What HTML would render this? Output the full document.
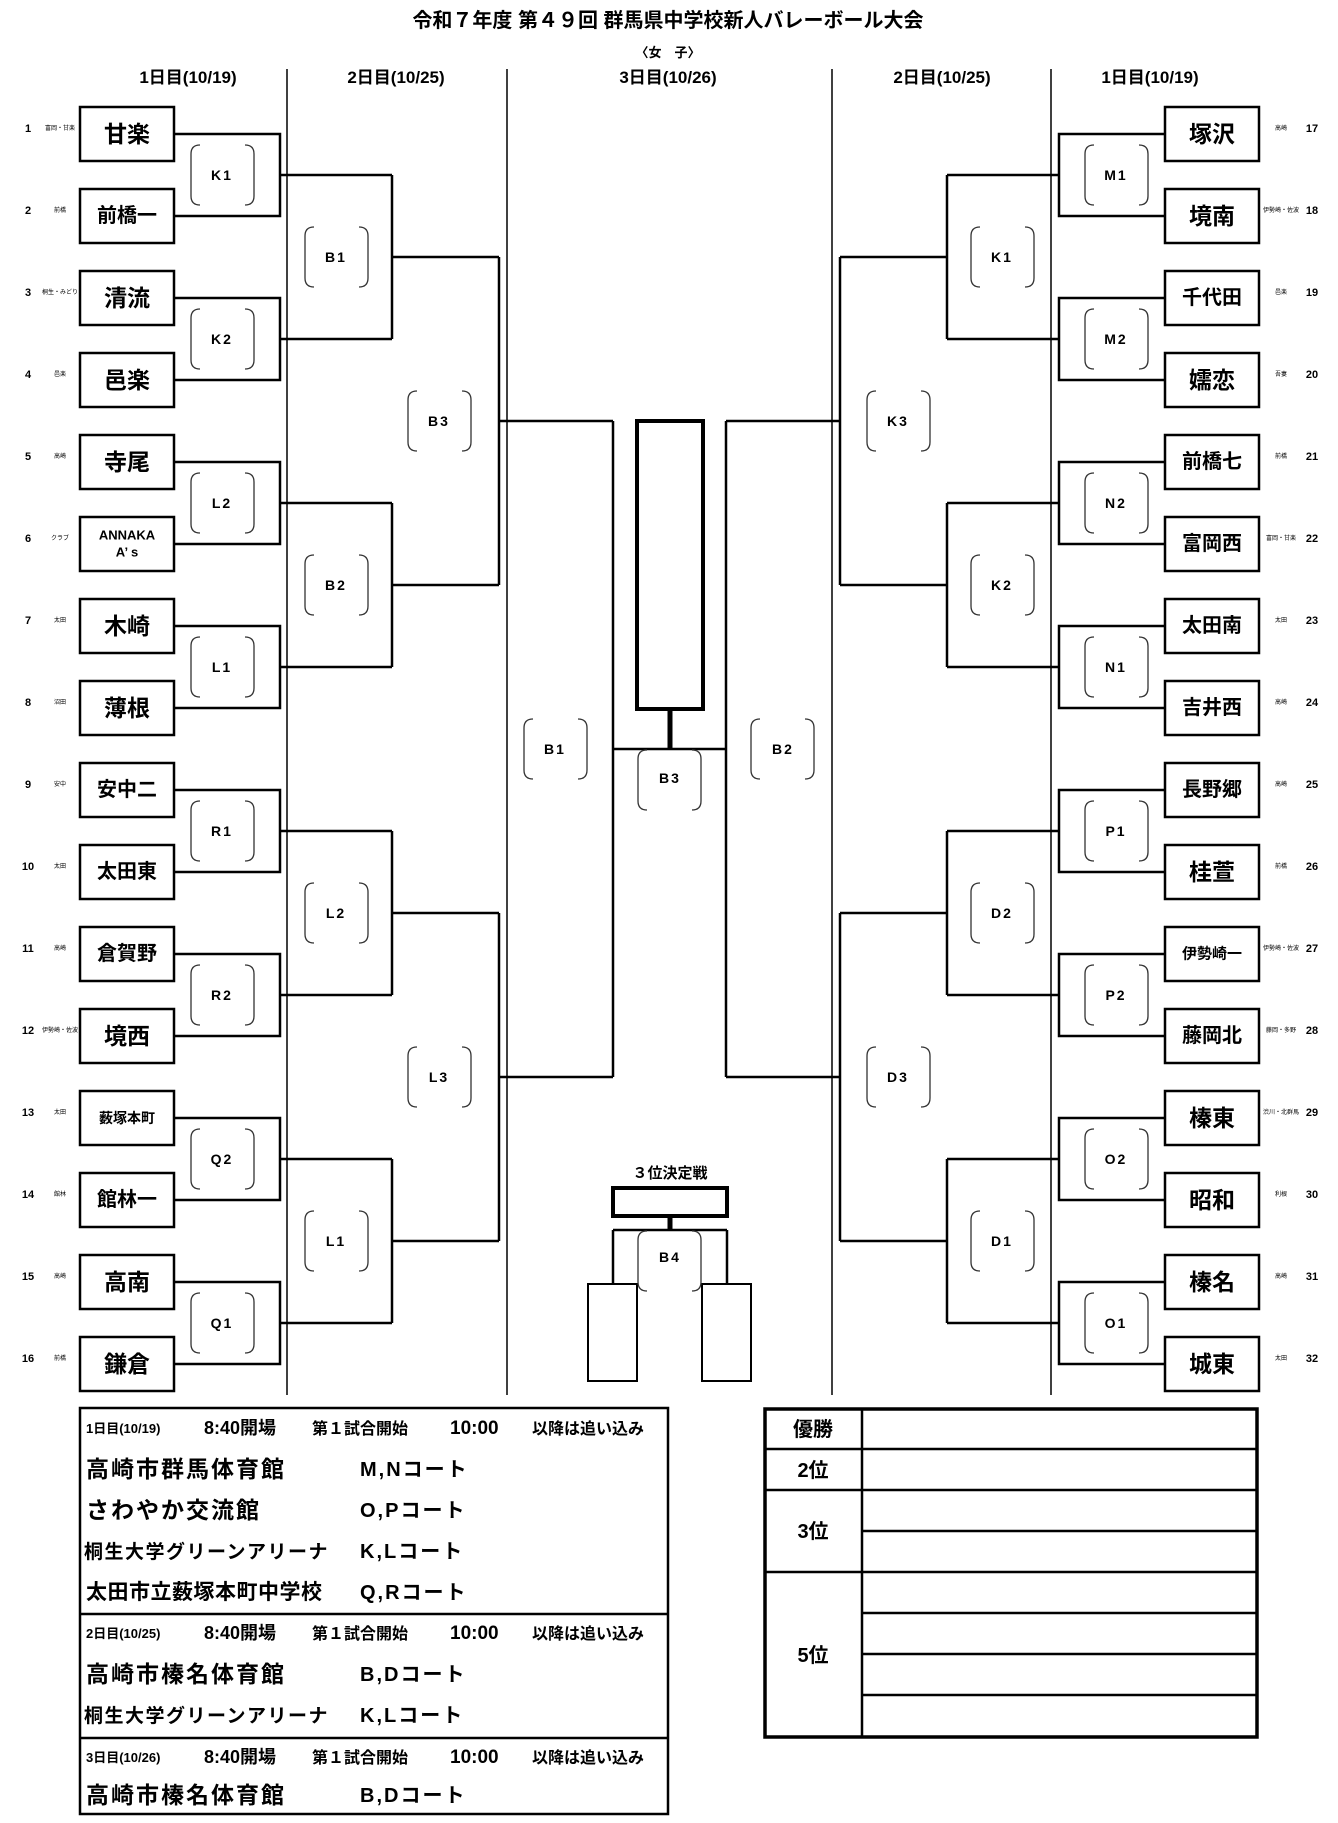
<!DOCTYPE html>
<html><head><meta charset="utf-8"><style>
html,body{margin:0;padding:0;background:#fff}
svg{display:block}
text{font-family:"Liberation Sans","Noto Sans CJK JP",sans-serif;fill:#000}
.tn{font-size:23px;font-weight:bold;text-anchor:middle;dominant-baseline:central}
.lb{font-size:14px;font-weight:bold;text-anchor:middle;dominant-baseline:central;letter-spacing:2px}
.num{font-size:11px;font-weight:bold;text-anchor:middle;dominant-baseline:central}
.ds{font-size:6px;text-anchor:middle;dominant-baseline:central}
.hd{font-size:17px;font-weight:bold;text-anchor:middle}
</style></head><body>
<svg width="1338" height="1823" viewBox="0 0 1338 1823" xmlns="http://www.w3.org/2000/svg">
<text x="668" y="27" style="font-size:20px;font-weight:bold" text-anchor="middle">令和７年度 第４９回 群馬県中学校新人バレーボール大会</text>
<text x="668" y="57" style="font-size:13px;font-weight:bold" text-anchor="middle">〈女　子〉</text>
<text class="hd" x="188" y="83">1日目(10/19)</text>
<text class="hd" x="396" y="83">2日目(10/25)</text>
<text class="hd" x="668" y="83">3日目(10/26)</text>
<text class="hd" x="942" y="83">2日目(10/25)</text>
<text class="hd" x="1150" y="83">1日目(10/19)</text>
<g stroke="#000" stroke-width="1.5"><path d="M287 69V1395M507 69V1395M832 69V1395M1051 69V1395"/></g>
<g fill="none" stroke="#000" stroke-width="2.5">
<path d="M174 134H280V216H174M280 175H392M174 298H280V380H174M280 339H392M174 462H280V544H174M280 503H392M174 626H280V708H174M280 667H392M174 790H280V872H174M280 831H392M174 954H280V1036H174M280 995H392M174 1118H280V1200H174M280 1159H392M174 1282H280V1364H174M280 1323H392"/>
<path d="M392 175V339M392 257H499M392 503V667M392 585H499M392 831V995M392 913H499M392 1159V1323M392 1241H499M499 257V585M499 421H613M499 913V1241M499 1077H613M613 421V1077M613 749H726"/>
<path d="M1165 134H1059V216H1165M1059 175H947M1165 298H1059V380H1165M1059 339H947M1165 462H1059V544H1165M1059 503H947M1165 626H1059V708H1165M1059 667H947M1165 790H1059V872H1165M1059 831H947M1165 954H1059V1036H1165M1059 995H947M1165 1118H1059V1200H1165M1059 1159H947M1165 1282H1059V1364H1165M1059 1323H947"/>
<path d="M947 175V339M947 257H840M947 503V667M947 585H840M947 831V995M947 913H840M947 1159V1323M947 1241H840M840 257V585M840 421H726M840 913V1241M840 1077H726M726 421V1077"/>
<path d="M613 1230H727M613 1230V1284M727 1230V1284"/>
<rect x="588" y="1284" width="49" height="97" stroke-width="2"/>
<rect x="702" y="1284" width="49" height="97" stroke-width="2"/>
<rect x="637" y="421" width="66" height="288" stroke-width="4"/>
<rect x="613" y="1188" width="114" height="28" stroke-width="4"/>
<path d="M670 709V749M670 1216V1230" stroke-width="5"/>
</g>
<g fill="#fff" stroke="#000" stroke-width="2.5">
<rect x="80" y="107" width="94" height="54"/><rect x="80" y="189" width="94" height="54"/><rect x="80" y="271" width="94" height="54"/><rect x="80" y="353" width="94" height="54"/><rect x="80" y="435" width="94" height="54"/><rect x="80" y="517" width="94" height="54"/><rect x="80" y="599" width="94" height="54"/><rect x="80" y="681" width="94" height="54"/><rect x="80" y="763" width="94" height="54"/><rect x="80" y="845" width="94" height="54"/><rect x="80" y="927" width="94" height="54"/><rect x="80" y="1009" width="94" height="54"/><rect x="80" y="1091" width="94" height="54"/><rect x="80" y="1173" width="94" height="54"/><rect x="80" y="1255" width="94" height="54"/><rect x="80" y="1337" width="94" height="54"/>
<rect x="1165" y="107" width="94" height="54"/><rect x="1165" y="189" width="94" height="54"/><rect x="1165" y="271" width="94" height="54"/><rect x="1165" y="353" width="94" height="54"/><rect x="1165" y="435" width="94" height="54"/><rect x="1165" y="517" width="94" height="54"/><rect x="1165" y="599" width="94" height="54"/><rect x="1165" y="681" width="94" height="54"/><rect x="1165" y="763" width="94" height="54"/><rect x="1165" y="845" width="94" height="54"/><rect x="1165" y="927" width="94" height="54"/><rect x="1165" y="1009" width="94" height="54"/><rect x="1165" y="1091" width="94" height="54"/><rect x="1165" y="1173" width="94" height="54"/><rect x="1165" y="1255" width="94" height="54"/><rect x="1165" y="1337" width="94" height="54"/>
</g>
<defs><path id="br" d="M9 0Q0 0 0 9V51Q0 60 9 60M54 0Q63 0 63 9V51Q63 60 54 60" fill="none" stroke="#333" stroke-width="1.3"/></defs>
<use href="#br" x="191" y="145"/><use href="#br" x="191" y="309"/><use href="#br" x="191" y="473"/><use href="#br" x="191" y="637"/><use href="#br" x="191" y="801"/><use href="#br" x="191" y="965"/><use href="#br" x="191" y="1129"/><use href="#br" x="191" y="1293"/>
<use href="#br" x="305" y="227"/><use href="#br" x="305" y="555"/><use href="#br" x="305" y="883"/><use href="#br" x="305" y="1211"/>
<use href="#br" x="408" y="391"/><use href="#br" x="408" y="1047"/><use href="#br" x="524" y="719"/>
<use href="#br" x="1085" y="145"/><use href="#br" x="1085" y="309"/><use href="#br" x="1085" y="473"/><use href="#br" x="1085" y="637"/><use href="#br" x="1085" y="801"/><use href="#br" x="1085" y="965"/><use href="#br" x="1085" y="1129"/><use href="#br" x="1085" y="1293"/>
<use href="#br" x="971" y="227"/><use href="#br" x="971" y="555"/><use href="#br" x="971" y="883"/><use href="#br" x="971" y="1211"/>
<use href="#br" x="867" y="391"/><use href="#br" x="867" y="1047"/><use href="#br" x="751" y="719"/>
<use href="#br" x="638" y="750"/><use href="#br" x="638" y="1231"/>
<g>
<text class="lb" x="222" y="175">K1</text><text class="lb" x="222" y="339">K2</text><text class="lb" x="222" y="503">L2</text><text class="lb" x="222" y="667">L1</text><text class="lb" x="222" y="831">R1</text><text class="lb" x="222" y="995">R2</text><text class="lb" x="222" y="1159">Q2</text><text class="lb" x="222" y="1323">Q1</text>
<text class="lb" x="336" y="257">B1</text><text class="lb" x="336" y="585">B2</text><text class="lb" x="336" y="913">L2</text><text class="lb" x="336" y="1241">L1</text>
<text class="lb" x="439" y="421">B3</text><text class="lb" x="439" y="1077">L3</text><text class="lb" x="555" y="749">B1</text>
<text class="lb" x="1116" y="175">M1</text><text class="lb" x="1116" y="339">M2</text><text class="lb" x="1116" y="503">N2</text><text class="lb" x="1116" y="667">N1</text><text class="lb" x="1116" y="831">P1</text><text class="lb" x="1116" y="995">P2</text><text class="lb" x="1116" y="1159">O2</text><text class="lb" x="1116" y="1323">O1</text>
<text class="lb" x="1002" y="257">K1</text><text class="lb" x="1002" y="585">K2</text><text class="lb" x="1002" y="913">D2</text><text class="lb" x="1002" y="1241">D1</text>
<text class="lb" x="898" y="421">K3</text><text class="lb" x="898" y="1077">D3</text><text class="lb" x="783" y="749">B2</text>
<text class="lb" x="670" y="778">B3</text><text class="lb" x="670" y="1257">B4</text>
</g>
<text x="670" y="1178" style="font-size:15px;font-weight:bold" text-anchor="middle">３位決定戦</text>
<text class="tn" x="127" y="134">甘楽</text><text class="tn" x="127" y="216" style="font-size:20px">前橋一</text><text class="tn" x="127" y="298">清流</text><text class="tn" x="127" y="380">邑楽</text><text class="tn" x="127" y="462">寺尾</text>
<text class="tn" x="127" y="535" style="font-size:13px">ANNAKA</text><text class="tn" x="127" y="552" style="font-size:13px">A’ s</text>
<text class="tn" x="127" y="626">木崎</text><text class="tn" x="127" y="708">薄根</text><text class="tn" x="127" y="790" style="font-size:20px">安中二</text><text class="tn" x="127" y="872" style="font-size:20px">太田東</text><text class="tn" x="127" y="954" style="font-size:20px">倉賀野</text><text class="tn" x="127" y="1036">境西</text><text class="tn" x="127" y="1118" style="font-size:14px">薮塚本町</text><text class="tn" x="127" y="1200" style="font-size:20px">館林一</text><text class="tn" x="127" y="1282">高南</text><text class="tn" x="127" y="1364">鎌倉</text>
<text class="tn" x="1212" y="134">塚沢</text><text class="tn" x="1212" y="216">境南</text><text class="tn" x="1212" y="298" style="font-size:20px">千代田</text><text class="tn" x="1212" y="380">嬬恋</text><text class="tn" x="1212" y="462" style="font-size:20px">前橋七</text><text class="tn" x="1212" y="544" style="font-size:20px">富岡西</text><text class="tn" x="1212" y="626" style="font-size:20px">太田南</text><text class="tn" x="1212" y="708" style="font-size:20px">吉井西</text><text class="tn" x="1212" y="790" style="font-size:20px">長野郷</text><text class="tn" x="1212" y="872">桂萱</text><text class="tn" x="1212" y="954" style="font-size:15px">伊勢崎一</text><text class="tn" x="1212" y="1036" style="font-size:20px">藤岡北</text><text class="tn" x="1212" y="1118">榛東</text><text class="tn" x="1212" y="1200">昭和</text><text class="tn" x="1212" y="1282">榛名</text><text class="tn" x="1212" y="1364">城東</text>
<text class="num" x="28" y="129">1</text><text class="ds" x="60" y="129">富岡・甘楽</text>
<text class="num" x="28" y="211">2</text><text class="ds" x="60" y="211">前橋</text>
<text class="num" x="28" y="293">3</text><text class="ds" x="60" y="293">桐生・みどり</text>
<text class="num" x="28" y="375">4</text><text class="ds" x="60" y="375">邑楽</text>
<text class="num" x="28" y="457">5</text><text class="ds" x="60" y="457">高崎</text>
<text class="num" x="28" y="539">6</text><text class="ds" x="60" y="539">クラブ</text>
<text class="num" x="28" y="621">7</text><text class="ds" x="60" y="621">太田</text>
<text class="num" x="28" y="703">8</text><text class="ds" x="60" y="703">沼田</text>
<text class="num" x="28" y="785">9</text><text class="ds" x="60" y="785">安中</text>
<text class="num" x="28" y="867">10</text><text class="ds" x="60" y="867">太田</text>
<text class="num" x="28" y="949">11</text><text class="ds" x="60" y="949">高崎</text>
<text class="num" x="28" y="1031">12</text><text class="ds" x="60" y="1031">伊勢崎・佐波</text>
<text class="num" x="28" y="1113">13</text><text class="ds" x="60" y="1113">太田</text>
<text class="num" x="28" y="1195">14</text><text class="ds" x="60" y="1195">館林</text>
<text class="num" x="28" y="1277">15</text><text class="ds" x="60" y="1277">高崎</text>
<text class="num" x="28" y="1359">16</text><text class="ds" x="60" y="1359">前橋</text>
<text class="num" x="1312" y="129">17</text><text class="ds" x="1281" y="129">高崎</text>
<text class="num" x="1312" y="211">18</text><text class="ds" x="1281" y="211">伊勢崎・佐波</text>
<text class="num" x="1312" y="293">19</text><text class="ds" x="1281" y="293">邑楽</text>
<text class="num" x="1312" y="375">20</text><text class="ds" x="1281" y="375">吾妻</text>
<text class="num" x="1312" y="457">21</text><text class="ds" x="1281" y="457">前橋</text>
<text class="num" x="1312" y="539">22</text><text class="ds" x="1281" y="539">富岡・甘楽</text>
<text class="num" x="1312" y="621">23</text><text class="ds" x="1281" y="621">太田</text>
<text class="num" x="1312" y="703">24</text><text class="ds" x="1281" y="703">高崎</text>
<text class="num" x="1312" y="785">25</text><text class="ds" x="1281" y="785">高崎</text>
<text class="num" x="1312" y="867">26</text><text class="ds" x="1281" y="867">前橋</text>
<text class="num" x="1312" y="949">27</text><text class="ds" x="1281" y="949">伊勢崎・佐波</text>
<text class="num" x="1312" y="1031">28</text><text class="ds" x="1281" y="1031">藤岡・多野</text>
<text class="num" x="1312" y="1113">29</text><text class="ds" x="1281" y="1113">渋川・北群馬</text>
<text class="num" x="1312" y="1195">30</text><text class="ds" x="1281" y="1195">利根</text>
<text class="num" x="1312" y="1277">31</text><text class="ds" x="1281" y="1277">高崎</text>
<text class="num" x="1312" y="1359">32</text><text class="ds" x="1281" y="1359">太田</text>
<g fill="none" stroke="#000" stroke-width="2.5"><rect x="80" y="1408" width="588" height="406"/><path d="M80 1614H668M80 1738H668"/></g>
<g style="font-weight:bold">
<text x="86" y="1433" style="font-size:13px">1日目(10/19)</text><text x="204" y="1434" style="font-size:18px">8:40開場</text><text x="312" y="1434" style="font-size:16px">第１試合開始</text><text x="450" y="1434" style="font-size:19px">10:00</text><text x="532" y="1434" style="font-size:16px">以降は追い込み</text>
<text x="86" y="1477" style="font-size:23px;letter-spacing:2px">高崎市群馬体育館</text><text x="360" y="1476" style="font-size:20px;letter-spacing:2px">M,Nコート</text>
<text x="86" y="1518" style="font-size:23px;letter-spacing:2px">さわやか交流館</text><text x="360" y="1517" style="font-size:20px;letter-spacing:2px">O,Pコート</text>
<text x="84" y="1558" style="font-size:19px;letter-spacing:1.5px">桐生大学グリーンアリーナ</text><text x="360" y="1558" style="font-size:20px;letter-spacing:2px">K,Lコート</text>
<text x="86" y="1599" style="font-size:21px;letter-spacing:0.5px">太田市立薮塚本町中学校</text><text x="360" y="1599" style="font-size:20px;letter-spacing:2px">Q,Rコート</text>
<text x="86" y="1638" style="font-size:13px">2日目(10/25)</text><text x="204" y="1639" style="font-size:18px">8:40開場</text><text x="312" y="1639" style="font-size:16px">第１試合開始</text><text x="450" y="1639" style="font-size:19px">10:00</text><text x="532" y="1639" style="font-size:16px">以降は追い込み</text>
<text x="86" y="1682" style="font-size:23px;letter-spacing:2px">高崎市榛名体育館</text><text x="360" y="1681" style="font-size:20px;letter-spacing:2px">B,Dコート</text>
<text x="84" y="1722" style="font-size:19px;letter-spacing:1.5px">桐生大学グリーンアリーナ</text><text x="360" y="1722" style="font-size:20px;letter-spacing:2px">K,Lコート</text>
<text x="86" y="1762" style="font-size:13px">3日目(10/26)</text><text x="204" y="1763" style="font-size:18px">8:40開場</text><text x="312" y="1763" style="font-size:16px">第１試合開始</text><text x="450" y="1763" style="font-size:19px">10:00</text><text x="532" y="1763" style="font-size:16px">以降は追い込み</text>
<text x="86" y="1803" style="font-size:23px;letter-spacing:2px">高崎市榛名体育館</text><text x="360" y="1802" style="font-size:20px;letter-spacing:2px">B,Dコート</text>
</g>
<g fill="none" stroke="#000"><rect x="765" y="1409" width="492" height="328" stroke-width="3.5"/>
<path d="M862 1408V1738M765 1449H1257M765 1490H1257M862 1531H1257M765 1572H1257M862 1613H1257M862 1654H1257M862 1695H1257" stroke-width="2.5"/></g>
<g style="font-size:20px;font-weight:bold" text-anchor="middle">
<text x="813" y="1436">優勝</text><text x="813" y="1477">2位</text><text x="813" y="1538">3位</text><text x="813" y="1662">5位</text>
</g>
</svg>
</body></html>
